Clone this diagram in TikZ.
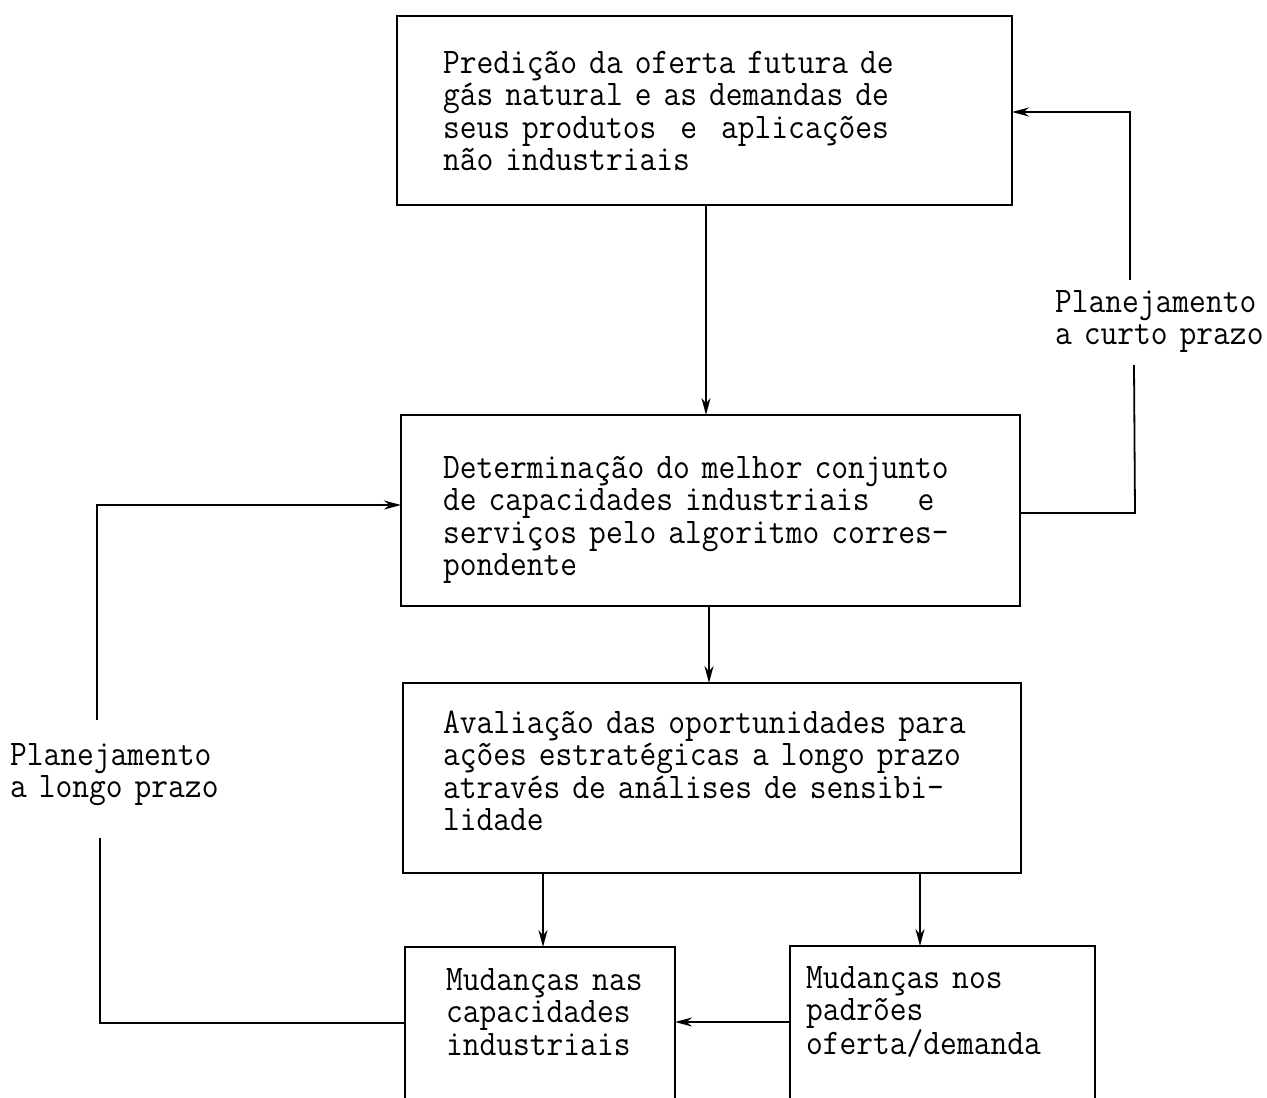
\documentclass[tikz,border=0pt]{standalone}
\usepackage{fontspec}
\setmonofont[FakeStretch=0.905]{Latin Modern Mono}
\usetikzlibrary{arrows.meta}
\begin{document}
\begin{tikzpicture}[x=1pt,y=-1pt,line width=1.8pt,
  box/.style={draw,rectangle,inner sep=0pt,outer sep=0pt},
  txt/.style={inner sep=0pt,outer sep=0pt,anchor=base west,align=left,text width=#1,
    font=\ttfamily\fontsize{36pt}{32.5pt}\selectfont},
  arr/.style={-{Stealth[length=17pt,width=9pt]}}]
\clip (0,0) rectangle (1267,1098);
% boxes
\node[box,minimum width=615pt,minimum height=189pt] (b1) at (704.5,110.5) {};
\node[box,minimum width=619pt,minimum height=191pt] (b2) at (710.5,510.5) {};
\node[box,minimum width=618pt,minimum height=190pt] (b3) at (712,778) {};
\node[box,minimum width=270pt,minimum height=182pt] (b4) at (540,1038) {};
\node[box,minimum width=305pt,minimum height=184pt] (b5) at (942.5,1038) {};
% texts
\node[txt=560pt] (t1) at (443,73) {Predição da oferta futura de\\gás natural e as demandas de\\seus produtos~~e~~aplicações\\não industriais};
\node[txt=560pt] (t2) at (443,478) {Determinação do melhor conjunto\\de capacidades industriais~~~~e\\serviços pelo algoritmo corres-\\pondente};
\node[txt=560pt] (t3) at (443,733) {Avaliação das oportunidades para\\ações estratégicas a longo prazo\\através de análises de sensibi-\\lidade};
\node[txt=220pt] (t4) at (446,990) {Mudanças nas\\capacidades\\industriais};
\node[txt=290pt] (t5) at (806,988) {Mudanças nos\\padrões\\oferta/demanda};
\node[txt=230pt] (lr) at (1055,312) {Planejamento\\a curto prazo};
\node[txt=230pt] (ll) at (10,765) {Planejamento\\a longo prazo};
% coordinates
\coordinate (x1) at (706,0);
\coordinate (x2) at (709,0);
\coordinate (x3) at (543,0);
\coordinate (x4) at (920,0);
\coordinate (rt) at (1130,112);
\coordinate (rtg) at (1130,280);
\coordinate (rbg) at (1134,365);
\coordinate (rb) at (1135,513);
\coordinate (lt) at (97,505);
\coordinate (ltg) at (97,720);
\coordinate (lbg) at (100,838);
\coordinate (lb) at (100,1023);
\coordinate (yb) at (0,1022);
% vertical arrows
\draw[arr] (b1.south -| x1) -- (b2.north -| x1);
\draw[arr] (b2.south -| x2) -- (b3.north -| x2);
\draw[arr] (b3.south -| x3) -- (b4.north -| x3);
\draw[arr] (b3.south -| x4) -- (b5.north -| x4);
% horizontal arrow
\draw[arr] (b5.west |- yb) -- (b4.east |- yb);
% short-term loop
\draw (b2.east |- rb) -- (rb) -- (rbg);
\draw[arr] (rtg) -- (rt) -- (b1.east |- rt);
% long-term loop
\draw (b4.west |- lb) -- (lb) -- (lbg);
\draw[arr] (ltg) -- (lt) -- (b2.west |- lt);
\end{tikzpicture}
\end{document}
